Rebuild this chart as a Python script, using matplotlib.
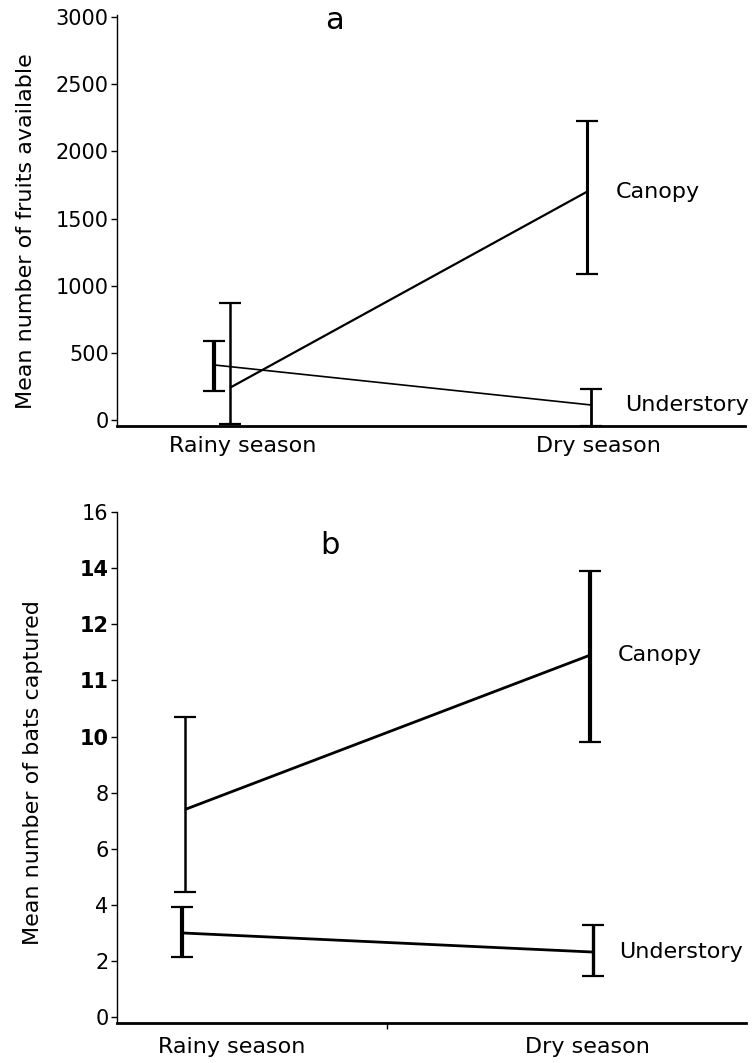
import matplotlib
matplotlib.use("Agg")
import matplotlib.pyplot as plt

seasons = ["Rainy season", "Dry season"]

# panel a: fruits available
fruit_canopy = [240, 1700]
fruit_canopy_low = [-30, 1090]
fruit_canopy_high = [870, 2230]
fruit_under = [410, 112]
fruit_under_low = [218, -45]
fruit_under_high = [585, 231]
fruit_ticks = [0, 500, 1000, 1500, 2000, 2500, 3000]

# panel b: bats captured (values in axis position units, the printed labels are uneven)
bat_canopy = [7.4, 12.9]
bat_canopy_low = [4.45, 9.8]
bat_canopy_high = [10.7, 15.9]
bat_under = [3.0, 2.32]
bat_under_low = [2.15, 1.45]
bat_under_high = [3.92, 3.28]
bat_ticks = [0, 2, 4, 6, 8, 10, 12, 14, 16, 18]
bat_tick_labels = ["0", "2", "4", "6", "8", "10", "11", "12", "14", "16"]

plt.rcParams['font.family'] = ['DejaVu Sans']


def draw_series(ax, xs, mean, low, high, line_w, bar_ws, cap=8):
    ax.plot(xs, mean, color='black', linewidth=line_w, solid_capstyle='butt')
    for x, m, lo, hi, bw in zip(xs, mean, low, high, bar_ws):
        ax.errorbar([x], [m], yerr=[[m - lo], [hi - m]], fmt='none', ecolor='black',
                    elinewidth=bw, capsize=cap, capthick=1.6, clip_on=False)


def style_axes(ax):
    ax.spines['top'].set_visible(False)
    ax.spines['right'].set_visible(False)
    ax.spines['left'].set_linewidth(1.0)
    ax.spines['bottom'].set_linewidth(2.0)
    ax.tick_params(axis='y', length=4, width=1, labelsize=15, pad=2)
    ax.tick_params(axis='x', length=0, labelsize=16)


fig = plt.figure(figsize=(7.55, 10.63), dpi=100)

# ---- panel a
ax1 = fig.add_axes([0.155, 0.5992, 0.8318, 0.3866])
draw_series(ax1, [0 - 0.037, 1 - 0.031], fruit_canopy, fruit_canopy_low, fruit_canopy_high,
            1.6, [1.8, 2.2])
draw_series(ax1, [0 - 0.082, 1 - 0.020], fruit_under, fruit_under_low, fruit_under_high,
            1.2, [3.0, 2.0])
ax1.set_xlim(-0.355, 1.414)
ax1.set_ylim(-45, 3015)
ax1.set_yticks(fruit_ticks)
ax1.set_xticks([0, 1])
ax1.set_xticklabels(seasons)
style_axes(ax1)
ax1.tick_params(axis='x', pad=7)
ax1.text(1.051, fruit_canopy[1], "Canopy", fontsize=16, va='center', ha='left')
ax1.text(1.076, fruit_under[1], "Understory", fontsize=16, va='center', ha='left')
ax1.text(0.347, 0.988, "a", fontsize=22, transform=ax1.transAxes, ha='center', va='center')
fig.text(0.034, 0.783, "Mean number of fruits available", rotation=90,
         fontsize=16, ha='center', va='center')

# ---- panel b
ax2 = fig.add_axes([0.155, 0.0376, 0.833, 0.4807])
draw_series(ax2, [0 - 0.132, 1 + 0.006], bat_canopy, bat_canopy_low, bat_canopy_high,
            2.0, [1.8, 3.0])
draw_series(ax2, [0 - 0.140, 1 + 0.014], bat_under, bat_under_low, bat_under_high,
            2.0, [3.0, 2.4])
ax2.set_xlim(-0.323, 1.444)
ax2.set_ylim(-0.21, 18.0)
ax2.set_yticks(bat_ticks)
ax2.set_yticklabels(bat_tick_labels)
for lab in ax2.get_yticklabels():
    if lab.get_text() in ("10", "11", "12", "14"):
        lab.set_fontweight('bold')
ax2.set_xticks([0, 1])
ax2.set_xticklabels(seasons)
style_axes(ax2)
ax2.tick_params(axis='x', pad=10)
ax2.set_xticks([0.435], minor=True)
ax2.tick_params(axis='x', which='minor', length=4, width=1)
ax2.text(1.084, bat_canopy[1], "Canopy", fontsize=16, va='center', ha='left')
ax2.text(1.087, bat_under[1], "Understory", fontsize=16, va='center', ha='left')
ax2.text(0.339, 0.935, "b", fontsize=22, transform=ax2.transAxes, ha='center', va='center')
fig.text(0.044, 0.273, "Mean number of bats captured", rotation=90,
         fontsize=16, ha='center', va='center')

fig.savefig("out.png", dpi=100)
